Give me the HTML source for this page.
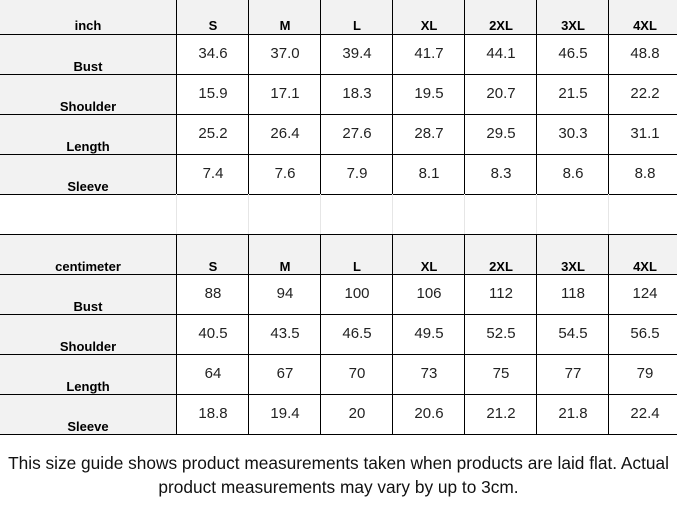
<!DOCTYPE html>
<html><head><style>
body{margin:0;width:677px;height:513px;background:#fff;position:relative;overflow:hidden;font-family:"Liberation Sans",Arial,sans-serif;}
.bg{position:absolute;background:#f2f2f2;}
.h{position:absolute;left:0;width:677px;height:1px;background:#000;}
.v{position:absolute;width:1px;background:#000;}
.vl{position:absolute;width:1px;background:#e6e6e6;top:194px;height:40px;}
.r{position:absolute;left:0;width:677px;height:40px;}
.r span{position:absolute;text-align:center;width:72px;}
.lab{left:0;width:176px!important;font-weight:bold;font-size:13px;top:25px;}
.r .d{top:11px;font-size:15px;color:#222;}
.r .hd{top:25px;font-size:13px;font-weight:bold;}
.foot{position:absolute;left:0;width:677px;text-align:center;font-size:17.3px;line-height:24px;top:451px;color:#111;}
</style></head><body>
<div class="bg" style="left:0;top:0;width:677px;height:34px"></div>
<div class="bg" style="left:0;top:34px;width:176px;height:160px"></div>
<div class="bg" style="left:0;top:234px;width:677px;height:40px"></div>
<div class="bg" style="left:0;top:274px;width:176px;height:160px"></div>

<div class="h" style="top:34px"></div><div class="h" style="top:74px"></div><div class="h" style="top:114px"></div><div class="h" style="top:154px"></div><div class="h" style="top:194px"></div><div class="h" style="top:234px"></div><div class="h" style="top:274px"></div><div class="h" style="top:314px"></div><div class="h" style="top:354px"></div><div class="h" style="top:394px"></div><div class="h" style="top:434px"></div>

<div class="v" style="left:176px;top:0;height:194px"></div><div class="v" style="left:248px;top:0;height:194px"></div><div class="v" style="left:320px;top:0;height:194px"></div><div class="v" style="left:392px;top:0;height:194px"></div><div class="v" style="left:464px;top:0;height:194px"></div><div class="v" style="left:536px;top:0;height:194px"></div><div class="v" style="left:608px;top:0;height:194px"></div>
<div class="v" style="left:176px;top:234px;height:200px"></div><div class="v" style="left:248px;top:234px;height:200px"></div><div class="v" style="left:320px;top:234px;height:200px"></div><div class="v" style="left:392px;top:234px;height:200px"></div><div class="v" style="left:464px;top:234px;height:200px"></div><div class="v" style="left:536px;top:234px;height:200px"></div><div class="v" style="left:608px;top:234px;height:200px"></div>
<div class="vl" style="left:176px"></div><div class="vl" style="left:248px"></div><div class="vl" style="left:320px"></div><div class="vl" style="left:392px"></div><div class="vl" style="left:464px"></div><div class="vl" style="left:536px"></div><div class="vl" style="left:608px"></div>

<div class="r" style="top:0"><span class="lab" style="top:18px">inch</span><span class="hd" style="left:177px;top:18px">S</span><span class="hd" style="left:249px;top:18px">M</span><span class="hd" style="left:321px;top:18px">L</span><span class="hd" style="left:393px;top:18px">XL</span><span class="hd" style="left:465px;top:18px">2XL</span><span class="hd" style="left:537px;top:18px">3XL</span><span class="hd" style="left:609px;top:18px">4XL</span></div>
<div class="r" style="top:34px"><span class="lab">Bust</span><span class="d" style="left:177px">34.6</span><span class="d" style="left:249px">37.0</span><span class="d" style="left:321px">39.4</span><span class="d" style="left:393px">41.7</span><span class="d" style="left:465px">44.1</span><span class="d" style="left:537px">46.5</span><span class="d" style="left:609px">48.8</span></div>
<div class="r" style="top:74px"><span class="lab">Shoulder</span><span class="d" style="left:177px">15.9</span><span class="d" style="left:249px">17.1</span><span class="d" style="left:321px">18.3</span><span class="d" style="left:393px">19.5</span><span class="d" style="left:465px">20.7</span><span class="d" style="left:537px">21.5</span><span class="d" style="left:609px">22.2</span></div>
<div class="r" style="top:114px"><span class="lab">Length</span><span class="d" style="left:177px">25.2</span><span class="d" style="left:249px">26.4</span><span class="d" style="left:321px">27.6</span><span class="d" style="left:393px">28.7</span><span class="d" style="left:465px">29.5</span><span class="d" style="left:537px">30.3</span><span class="d" style="left:609px">31.1</span></div>
<div class="r" style="top:154px"><span class="lab">Sleeve</span><span class="d" style="left:177px">7.4</span><span class="d" style="left:249px">7.6</span><span class="d" style="left:321px">7.9</span><span class="d" style="left:393px">8.1</span><span class="d" style="left:465px">8.3</span><span class="d" style="left:537px">8.6</span><span class="d" style="left:609px">8.8</span></div>

<div class="r" style="top:234px"><span class="lab">centimeter</span><span class="hd" style="left:177px">S</span><span class="hd" style="left:249px">M</span><span class="hd" style="left:321px">L</span><span class="hd" style="left:393px">XL</span><span class="hd" style="left:465px">2XL</span><span class="hd" style="left:537px">3XL</span><span class="hd" style="left:609px">4XL</span></div>
<div class="r" style="top:274px"><span class="lab">Bust</span><span class="d" style="left:177px">88</span><span class="d" style="left:249px">94</span><span class="d" style="left:321px">100</span><span class="d" style="left:393px">106</span><span class="d" style="left:465px">112</span><span class="d" style="left:537px">118</span><span class="d" style="left:609px">124</span></div>
<div class="r" style="top:314px"><span class="lab">Shoulder</span><span class="d" style="left:177px">40.5</span><span class="d" style="left:249px">43.5</span><span class="d" style="left:321px">46.5</span><span class="d" style="left:393px">49.5</span><span class="d" style="left:465px">52.5</span><span class="d" style="left:537px">54.5</span><span class="d" style="left:609px">56.5</span></div>
<div class="r" style="top:354px"><span class="lab">Length</span><span class="d" style="left:177px">64</span><span class="d" style="left:249px">67</span><span class="d" style="left:321px">70</span><span class="d" style="left:393px">73</span><span class="d" style="left:465px">75</span><span class="d" style="left:537px">77</span><span class="d" style="left:609px">79</span></div>
<div class="r" style="top:394px"><span class="lab">Sleeve</span><span class="d" style="left:177px">18.8</span><span class="d" style="left:249px">19.4</span><span class="d" style="left:321px">20</span><span class="d" style="left:393px">20.6</span><span class="d" style="left:465px">21.2</span><span class="d" style="left:537px">21.8</span><span class="d" style="left:609px">22.4</span></div>

<div class="foot">This size guide shows product measurements taken when products are laid flat. Actual<br>product measurements may vary by up to 3cm.</div>
</body></html>
